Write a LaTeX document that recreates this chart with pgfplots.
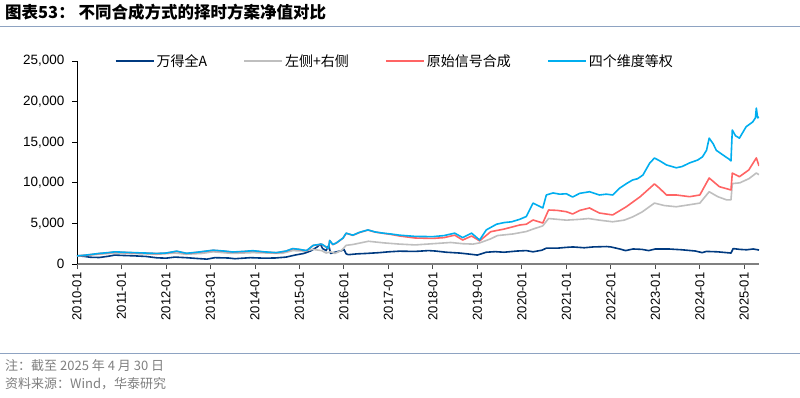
\documentclass[border=0pt]{standalone}
\usepackage{pgfplots}
\pgfplotsset{compat=1.18}
\usepackage{fontspec}
\setmainfont{Liberation Sans}
\newfontfamily\cjk{Noto Sans CJK SC}
\definecolor{cA}{HTML}{003A80}
\definecolor{cB}{HTML}{BFBFBF}
\definecolor{cC}{HTML}{FF6464}
\definecolor{cD}{HTML}{00AEEF}
\definecolor{rule}{HTML}{8EA3C2}
\definecolor{foot}{HTML}{7F7F7F}
\begin{document}
\begin{tikzpicture}
\useasboundingbox (0pt,0pt) rectangle (800pt,397pt);
\node[anchor=west,inner sep=0pt] at (5pt,385pt) {\cjk\bfseries\fontsize{16.5}{18}\selectfont 图表53：\ 不同合成方式的择时方案净值对比};
\draw[rule,line width=1pt] (0pt,370pt) -- (800pt,370pt);
\draw[rule,line width=1pt] (0pt,44pt) -- (800pt,44pt);
\node[anchor=west,inner sep=0pt,text=foot] at (5pt,31pt) {\cjk\fontsize{13}{15}\selectfont 注：截至 2025 年 4 月 30 日};
\node[anchor=west,inner sep=0pt,text=foot] at (5pt,13pt) {\cjk\fontsize{13}{15}\selectfont 资料来源：Wind，华泰研究};
\begin{axis}[
  at={(77pt,133pt)}, anchor=south west,
  scale only axis, width=682pt, height=203pt,
  xmin=2010, xmax=2025.33, ymin=0, ymax=25000,
  axis x line=bottom, axis y line=left,
  x axis line style={-, draw=black!50, line width=2pt},
  y axis line style={-, black, line width=0.8pt},
  xtick={2010,...,2025},
  xticklabels={2010-01,2011-01,2012-01,2013-01,2014-01,2015-01,2016-01,2017-01,2018-01,2019-01,2020-01,2021-01,2022-01,2023-01,2024-01,2025-01},
  xticklabel style={rotate=90, anchor=east, font=\fontsize{13}{15}\selectfont},
  ytick={0,5000,10000,15000,20000,25000},
  yticklabel style={font=\fontsize{13.5}{15}\selectfont, xshift=-4pt},
  /pgf/number format/assume math mode=true,
  /pgf/number format/1000 sep={,},
  scaled y ticks=false,
  tick align=outside,
  major tick length=5pt,
  x tick style={black!70, line width=0.8pt},
  y tick style={black, line width=0.8pt},
  tick label style={black},
  legend columns=4,
  legend style={at={(0.466,1)}, anchor=center, draw=none, fill=none,
    font=\cjk\fontsize{14}{16}\selectfont,
    /tikz/every even column/.append style={column sep=34pt}},
  legend image code/.code={\draw[#1, line width=2pt] (0pt,0pt) -- (38pt,0pt);},
  every axis plot/.append style={line width=1.6pt, line join=round},
]
\addplot[cA] coordinates {
(2010.00,1000)(2010.15,950)(2010.30,830)(2010.50,800)(2010.70,950)(2010.85,1100)(2011.00,1060)(2011.30,1000)(2011.55,930)(2011.80,760)(2012.00,720)(2012.20,850)(2012.45,780)(2012.70,680)(2012.92,600)(2013.10,780)(2013.40,740)(2013.55,650)(2013.90,780)(2014.20,720)(2014.45,740)(2014.70,850)(2014.90,1100)(2015.10,1300)(2015.25,1600)(2015.40,2100)(2015.47,2450)(2015.52,1900)(2015.60,1650)(2015.66,2300)(2015.70,1300)(2015.80,1450)(2015.95,1650)(2016.00,1800)(2016.05,1250)(2016.10,1150)(2016.30,1250)(2016.50,1300)(2016.80,1400)(2017.00,1500)(2017.25,1580)(2017.60,1550)(2017.90,1650)(2018.05,1600)(2018.30,1450)(2018.60,1350)(2018.85,1200)(2019.00,1100)(2019.20,1450)(2019.40,1520)(2019.60,1450)(2019.90,1600)(2020.10,1650)(2020.25,1500)(2020.45,1700)(2020.55,1950)(2020.80,1950)(2021.00,2050)(2021.15,2100)(2021.40,2000)(2021.60,2100)(2021.90,2150)(2022.00,2100)(2022.20,1850)(2022.33,1650)(2022.50,1850)(2022.70,1800)(2022.85,1650)(2023.00,1850)(2023.30,1850)(2023.60,1750)(2023.90,1600)(2024.05,1400)(2024.15,1550)(2024.40,1500)(2024.60,1400)(2024.70,1350)(2024.75,1900)(2024.90,1800)(2025.05,1750)(2025.20,1850)(2025.33,1720)
};
\addlegendentry{万得全A}
\addplot[cB] coordinates {
(2010.00,1000)(2010.20,1050)(2010.50,1200)(2010.85,1350)(2011.20,1300)(2011.50,1250)(2011.80,1200)(2012.20,1350)(2012.45,1200)(2012.80,1300)(2013.06,1500)(2013.50,1300)(2013.95,1400)(2014.30,1350)(2014.60,1300)(2014.85,1650)(2015.10,1600)(2015.30,1800)(2015.50,1650)(2015.60,1350)(2015.70,1500)(2015.80,1300)(2015.95,1700)(2016.05,2300)(2016.20,2400)(2016.55,2800)(2016.90,2600)(2017.25,2450)(2017.60,2350)(2018.00,2500)(2018.40,2650)(2018.67,2500)(2018.90,2450)(2019.05,2600)(2019.30,3100)(2019.45,3500)(2019.80,3700)(2020.10,4000)(2020.25,4300)(2020.47,4700)(2020.60,5600)(2020.80,5500)(2021.00,5400)(2021.30,5500)(2021.50,5600)(2021.74,5400)(2022.04,5200)(2022.30,5400)(2022.49,5800)(2022.70,6400)(2022.98,7500)(2023.20,7200)(2023.47,7050)(2023.77,7300)(2024.00,7500)(2024.21,8900)(2024.40,8300)(2024.60,7900)(2024.70,7900)(2024.73,9900)(2024.90,10000)(2025.10,10500)(2025.27,11200)(2025.33,11000)
};
\addlegendentry{左侧+右侧}
\addplot[cC] coordinates {
(2010.00,1000)(2010.20,1080)(2010.51,1290)(2010.70,1380)(2010.85,1480)(2011.05,1430)(2011.27,1380)(2011.55,1330)(2011.79,1280)(2012.00,1330)(2012.24,1560)(2012.46,1300)(2012.70,1430)(2013.06,1680)(2013.30,1580)(2013.50,1460)(2013.75,1530)(2013.95,1620)(2014.20,1480)(2014.48,1380)(2014.70,1580)(2014.85,1880)(2015.00,1780)(2015.16,1630)(2015.31,2280)(2015.50,2430)(2015.60,2080)(2015.65,1880)(2015.68,2880)(2015.75,2380)(2015.83,2580)(2015.98,3180)(2016.05,3780)(2016.20,3530)(2016.35,3880)(2016.54,4180)(2016.70,3930)(2016.88,3780)(2017.05,3650)(2017.25,3450)(2017.60,3200)(2018.00,3150)(2018.25,3250)(2018.49,3550)(2018.67,2950)(2018.87,3450)(2019.05,2850)(2019.30,3980)(2019.60,4300)(2019.95,4800)(2020.10,4900)(2020.25,5420)(2020.47,5050)(2020.60,6650)(2020.80,6600)(2021.00,6440)(2021.14,6160)(2021.30,6600)(2021.52,6900)(2021.74,6280)(2022.04,6040)(2022.35,7060)(2022.66,8290)(2022.98,9860)(2023.10,9300)(2023.25,8500)(2023.47,8500)(2023.77,8290)(2024.00,8500)(2024.21,10590)(2024.44,9520)(2024.70,9120)(2024.73,11200)(2024.89,10750)(2025.10,11580)(2025.27,13060)(2025.33,12070)
};
\addlegendentry{原始信号合成}
\addplot[cD] coordinates {
(2010.00,1000)(2010.20,1100)(2010.51,1310)(2010.70,1400)(2010.85,1500)(2011.05,1450)(2011.27,1400)(2011.55,1350)(2011.79,1300)(2012.00,1350)(2012.24,1580)(2012.46,1320)(2012.70,1450)(2013.06,1700)(2013.30,1600)(2013.50,1480)(2013.75,1550)(2013.95,1640)(2014.20,1500)(2014.48,1400)(2014.70,1600)(2014.85,1900)(2015.00,1800)(2015.16,1650)(2015.31,2300)(2015.50,2450)(2015.60,2100)(2015.65,1900)(2015.68,2900)(2015.75,2400)(2015.83,2600)(2015.98,3200)(2016.05,3800)(2016.20,3550)(2016.35,3900)(2016.54,4200)(2016.70,3950)(2016.88,3800)(2017.05,3700)(2017.25,3550)(2017.60,3400)(2018.00,3370)(2018.25,3500)(2018.49,3800)(2018.67,3250)(2018.87,3800)(2019.05,2950)(2019.20,4200)(2019.43,4900)(2019.60,5100)(2019.77,5200)(2019.95,5500)(2020.10,5850)(2020.25,7500)(2020.40,7100)(2020.47,6900)(2020.55,8500)(2020.70,8750)(2020.85,8600)(2021.00,8650)(2021.14,8250)(2021.30,8700)(2021.52,8900)(2021.74,8500)(2021.90,8600)(2022.04,8500)(2022.20,9350)(2022.35,9900)(2022.49,10350)(2022.60,10500)(2022.72,10950)(2022.87,12400)(2022.98,13050)(2023.10,12700)(2023.25,12200)(2023.47,11850)(2023.60,12000)(2023.77,12450)(2023.95,12800)(2024.06,13200)(2024.15,14000)(2024.21,15500)(2024.30,14800)(2024.37,14000)(2024.50,13500)(2024.66,12900)(2024.70,12700)(2024.73,16500)(2024.80,15800)(2024.89,15500)(2025.04,16900)(2025.19,17500)(2025.25,18000)(2025.27,19200)(2025.30,18000)(2025.33,18100)
};
\addlegendentry{四个维度等权}
\end{axis}
\end{tikzpicture}
\end{document}
